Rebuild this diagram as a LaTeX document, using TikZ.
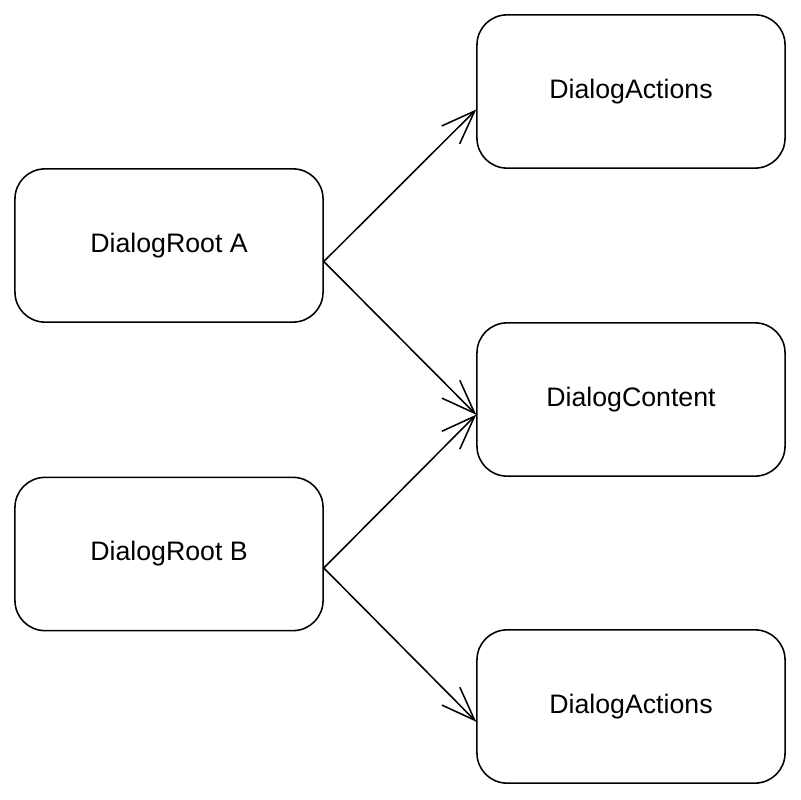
\documentclass[tikz,border=0pt]{standalone}
\usepackage{fontspec}
\setmainfont{Liberation Sans}
\usetikzlibrary{arrows.meta}

\tikzset{
  block/.style={draw, rounded corners=0.75cm, line width=1.1pt,
    minimum width=7.7cm, minimum height=3.83cm,
    font=\fontsize{19}{23}\selectfont},
  link/.style={line width=1.1pt, -{Straight Barb[length=24pt,width=18pt]}}
}

\begin{document}
\begin{tikzpicture}[x=0.025cm, y=-0.025cm]
  \useasboundingbox (0,0) rectangle (800,800);

  % left column
  \node[block] (rootA) at (169,245.5) {DialogRoot A};
  \node[block] (rootB) at (169,554) {DialogRoot B};

  % right column
  \node[block] (actTop) at (631,91.5) {DialogActions};
  \node[block] (content) at (631,399.5) {DialogContent};
  \node[block] (actBot) at (631,706.5) {DialogActions};

  \draw[link] ([yshift=-0.4cm]rootA.east) -- ([yshift=-0.45cm]actTop.west);
  \draw[link] ([yshift=-0.4cm]rootA.east) -- ([yshift=-0.38cm]content.west);
  \draw[link] ([yshift=-0.35cm]rootB.east) -- ([yshift=-0.38cm]content.west);
  \draw[link] ([yshift=-0.35cm]rootB.east) -- ([yshift=-0.38cm]actBot.west);
\end{tikzpicture}
\end{document}
